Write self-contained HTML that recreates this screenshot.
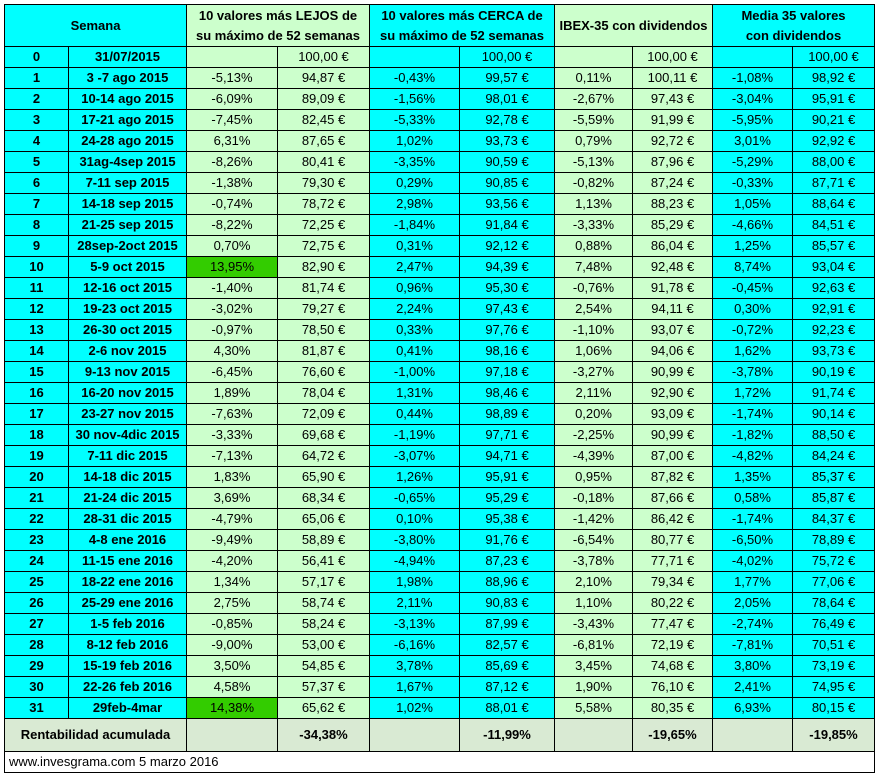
<!DOCTYPE html><html><head><meta charset="utf-8"><style>
body{margin:0;background:#fff;width:880px;height:776px;overflow:hidden}
table{position:absolute;left:4px;top:4px;border-collapse:collapse;font-family:"Liberation Sans",Arial,sans-serif;font-size:13px;table-layout:fixed}
td{border:1px solid #000;height:20px;padding:0;text-align:center;white-space:nowrap;color:#000;line-height:20px}
.c{background:#00FFFF}.g{background:#CCFFCC}.b{font-weight:bold}
.h td{height:41px;line-height:20px;font-weight:bold}
.s td{height:32px;background:#D9EAD3;font-weight:bold}
.hi{background:#33CC00}
.f td{height:20px;text-align:left;padding-left:4px;background:#fff}
</style></head><body>
<table>
<colgroup><col style="width:64px"><col style="width:118px"><col style="width:91px"><col style="width:92px"><col style="width:90px"><col style="width:95px"><col style="width:78px"><col style="width:80px"><col style="width:80px"><col style="width:82px"></colgroup>
<tr class="h"><td class="c" colspan="2">Semana</td><td class="g" colspan="2">10 valores más LEJOS de<br>su máximo de 52 semanas</td><td class="c" colspan="2">10 valores más CERCA de<br>su máximo de 52 semanas</td><td class="g" colspan="2">IBEX-35 con dividendos</td><td class="c" colspan="2">Media 35 valores<br>con dividendos</td></tr>
<tbody id="tb"></tbody>
<tr class="s"><td colspan="2">Rentabilidad acumulada</td><td></td><td>-34,38%</td><td></td><td>-11,99%</td><td></td><td>-19,65%</td><td></td><td>-19,85%</td></tr>
<tr class="f"><td colspan="10">www.invesgrama.com 5 marzo 2016</td></tr>
</table>
<script>
var d=[
["0","31/07/2015","","100,00","","100,00","","100,00","","100,00"],
["1","3 -7 ago 2015","-5,13%","94,87","-0,43%","99,57","0,11%","100,11","-1,08%","98,92"],
["2","10-14 ago 2015","-6,09%","89,09","-1,56%","98,01","-2,67%","97,43","-3,04%","95,91"],
["3","17-21 ago 2015","-7,45%","82,45","-5,33%","92,78","-5,59%","91,99","-5,95%","90,21"],
["4","24-28 ago 2015","6,31%","87,65","1,02%","93,73","0,79%","92,72","3,01%","92,92"],
["5","31ag-4sep 2015","-8,26%","80,41","-3,35%","90,59","-5,13%","87,96","-5,29%","88,00"],
["6","7-11 sep 2015","-1,38%","79,30","0,29%","90,85","-0,82%","87,24","-0,33%","87,71"],
["7","14-18 sep 2015","-0,74%","78,72","2,98%","93,56","1,13%","88,23","1,05%","88,64"],
["8","21-25 sep 2015","-8,22%","72,25","-1,84%","91,84","-3,33%","85,29","-4,66%","84,51"],
["9","28sep-2oct 2015","0,70%","72,75","0,31%","92,12","0,88%","86,04","1,25%","85,57"],
["10","5-9  oct 2015","13,95%","82,90","2,47%","94,39","7,48%","92,48","8,74%","93,04"],
["11","12-16 oct 2015","-1,40%","81,74","0,96%","95,30","-0,76%","91,78","-0,45%","92,63"],
["12","19-23 oct 2015","-3,02%","79,27","2,24%","97,43","2,54%","94,11","0,30%","92,91"],
["13","26-30 oct 2015","-0,97%","78,50","0,33%","97,76","-1,10%","93,07","-0,72%","92,23"],
["14","2-6 nov 2015","4,30%","81,87","0,41%","98,16","1,06%","94,06","1,62%","93,73"],
["15","9-13 nov 2015","-6,45%","76,60","-1,00%","97,18","-3,27%","90,99","-3,78%","90,19"],
["16","16-20 nov 2015","1,89%","78,04","1,31%","98,46","2,11%","92,90","1,72%","91,74"],
["17","23-27 nov 2015","-7,63%","72,09","0,44%","98,89","0,20%","93,09","-1,74%","90,14"],
["18","30 nov-4dic 2015","-3,33%","69,68","-1,19%","97,71","-2,25%","90,99","-1,82%","88,50"],
["19","7-11 dic 2015","-7,13%","64,72","-3,07%","94,71","-4,39%","87,00","-4,82%","84,24"],
["20","14-18 dic 2015","1,83%","65,90","1,26%","95,91","0,95%","87,82","1,35%","85,37"],
["21","21-24 dic 2015","3,69%","68,34","-0,65%","95,29","-0,18%","87,66","0,58%","85,87"],
["22","28-31 dic 2015","-4,79%","65,06","0,10%","95,38","-1,42%","86,42","-1,74%","84,37"],
["23","4-8 ene 2016","-9,49%","58,89","-3,80%","91,76","-6,54%","80,77","-6,50%","78,89"],
["24","11-15 ene 2016","-4,20%","56,41","-4,94%","87,23","-3,78%","77,71","-4,02%","75,72"],
["25","18-22 ene 2016","1,34%","57,17","1,98%","88,96","2,10%","79,34","1,77%","77,06"],
["26","25-29 ene 2016","2,75%","58,74","2,11%","90,83","1,10%","80,22","2,05%","78,64"],
["27","1-5 feb 2016","-0,85%","58,24","-3,13%","87,99","-3,43%","77,47","-2,74%","76,49"],
["28","8-12 feb 2016","-9,00%","53,00","-6,16%","82,57","-6,81%","72,19","-7,81%","70,51"],
["29","15-19 feb 2016","3,50%","54,85","3,78%","85,69","3,45%","74,68","3,80%","73,19"],
["30","22-26 feb 2016","4,58%","57,37","1,67%","87,12","1,90%","76,10","2,41%","74,95"],
["31","29feb-4mar","14,38%","65,62","1,02%","88,01","5,58%","80,35","6,93%","80,15"]];
var cls=["c b","c b","g","g","c","c","g","g","c","c"],h="";
d.forEach(function(r){h+="<tr>";r.forEach(function(v,i){var c=cls[i];if(i==2&&(r[0]=="10"||r[0]=="31"))c="hi";if(i%2==1&&i>1)v+=" €";h+='<td class="'+c+'">'+v+"</td>"});h+="</tr>"});
document.getElementById("tb").innerHTML=h;
</script>
</body></html>
